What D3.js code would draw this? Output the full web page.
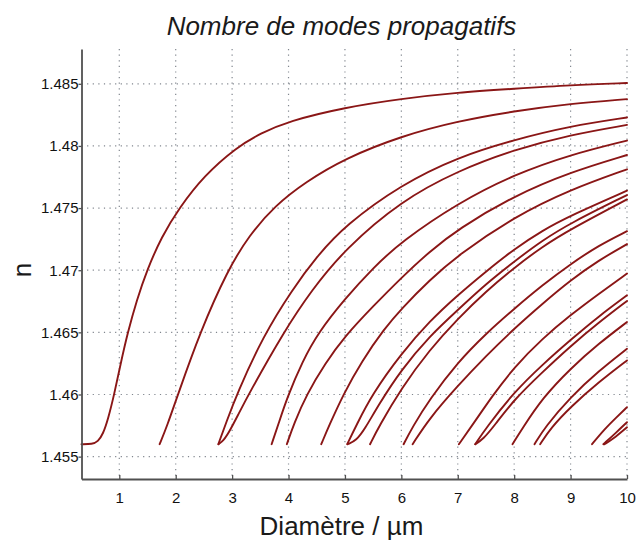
<!DOCTYPE html>
<html>
<head>
<meta charset="utf-8">
<script src="https://cdn.jsdelivr.net/npm/d3@7"></script>
<style>
  body { margin: 0; background: #fff; }
  svg { display: block; }
</style>
</head>
<body>
<svg id="chart" width="638" height="543"></svg>
<script>
// Axis ticks
const xTicks = [1, 2, 3, 4, 5, 6, 7, 8, 9, 10];
const yTicks = [1.455, 1.46, 1.465, 1.47, 1.475, 1.48, 1.485];
const yTickLabels = ["1.455", "1.46", "1.465", "1.47", "1.475", "1.48", "1.485"];

// Guided modes: [core diameter (µm), effective index]
const LP01 = [[0.33,1.456],[0.52,1.456],[0.62,1.4562],[0.71,1.4568],[0.8,1.458],[0.91,1.46],[1.02,1.4624],[1.15,1.465],[1.31,1.4676],[1.49,1.47],[1.75,1.4727],[2.06,1.475],[2.5,1.4776],[3.08,1.4799],[3.5,1.481],[4,1.482],[5,1.4831],[6,1.4838],[7,1.4843],[8,1.4846],[9,1.4849],[10,1.48506]];
const LP11 = [[1.715,1.456],[1.85,1.4575],[2.04,1.46],[2.43,1.465],[2.92,1.47],[3.3,1.4728],[3.76,1.4752],[4.3,1.4771],[5,1.479],[6,1.4808],[7,1.482],[8,1.4828],[9,1.4834],[10,1.48377]];
const LP21 = [[2.755,1.456],[2.9,1.4578],[3.08,1.46],[3.55,1.4647],[4.06,1.4684],[4.5,1.4711],[5,1.4736],[6,1.4769],[7,1.4791],[8,1.4805],[9,1.4816],[10,1.48229]];
const LP02 = [[2.76,1.456],[2.85,1.4563],[2.95,1.457],[3.1,1.4583],[3.29,1.46],[3.91,1.465],[4.41,1.4684],[5,1.4717],[6,1.4756],[7,1.478],[8,1.4797],[9,1.4809],[10,1.48169]];
const LP31 = [[3.7,1.456],[3.82,1.4576],[3.97,1.4597],[4.25,1.4627],[4.53,1.465],[5,1.4677],[5.5,1.4702],[6,1.4723],[7,1.4754],[8,1.4777],[9,1.4793],[10,1.48043]];
const LP12 = [[3.97,1.456],[4.1,1.4577],[4.32,1.46],[4.65,1.4625],[5,1.4647],[5.5,1.4671],[6,1.4694],[6.5,1.4715],[7,1.4733],[8,1.476],[9,1.4779],[10,1.47927]];
const LP41 = [[4.58,1.456],[4.72,1.4575],[4.97,1.46],[5.3,1.4627],[5.7,1.4653],[6,1.4669],[6.5,1.4692],[7,1.4712],[8,1.4743],[9,1.4765],[10,1.47812]];
const LP22 = [[5.04,1.456],[5.2,1.4575],[5.48,1.46],[6,1.4633],[6.5,1.4659],[7,1.468],[7.5,1.4699],[8,1.4717],[8.5,1.4732],[9,1.4744],[10,1.4764]];
const LP03 = [[5.05,1.456],[5.2,1.4563],[5.35,1.4572],[5.6,1.4592],[6,1.462],[6.5,1.4647],[7,1.4668],[7.5,1.4689],[8,1.4707],[8.5,1.4724],[9,1.4738],[10,1.47605]];
const LP51 = [[5.445,1.456],[5.6,1.4574],[6,1.4605],[6.5,1.4636],[7,1.4661],[7.5,1.4683],[8,1.4702],[8.5,1.4719],[9,1.4733],[10,1.4757]];
const LP32 = [[6.04,1.456],[6.2,1.4574],[6.5,1.4596],[7,1.4626],[7.5,1.4649],[8,1.4669],[8.5,1.4688],[9,1.4705],[9.5,1.472],[10,1.47314]];
const LP13 = [[6.2,1.456],[6.5,1.4581],[7,1.4607],[7.5,1.4631],[8,1.4653],[8.5,1.4673],[9,1.4692],[9.5,1.4708],[10,1.4721]];
const LP42 = [[7.02,1.456],[7.3,1.4578],[7.6,1.4598],[8,1.4622],[8.5,1.4645],[9,1.4664],[9.5,1.4681],[10,1.46973]];
const LP23 = [[7.31,1.456],[7.5,1.4573],[8,1.4602],[8.5,1.4624],[9,1.4644],[9.5,1.4663],[10,1.46798]];
const LP04 = [[7.31,1.456],[7.45,1.4564],[7.65,1.4575],[8,1.4596],[8.5,1.4618],[9,1.4639],[9.5,1.4658],[10,1.46753]];
const LP52 = [[7.97,1.456],[8.15,1.4573],[8.5,1.4597],[9,1.4621],[9.5,1.4641],[10,1.46583]];
const LP33 = [[8.36,1.456],[8.55,1.4574],[9,1.4598],[9.5,1.4619],[10,1.46368]];
const LP14 = [[8.46,1.456],[8.65,1.4573],[9,1.459],[9.5,1.461],[10,1.46274]];
const LP43 = [[9.38,1.456],[9.6,1.4572],[9.8,1.4581],[10,1.45898]];
const LP24 = [[9.58,1.456],[9.8,1.4569],[10,1.45777]];
const LP05 = [[9.6,1.456],[9.75,1.4564],[10,1.45736]];

const modes = [LP01, LP11, LP21, LP02, LP31, LP12, LP41, LP22, LP03, LP51,
               LP32, LP13, LP42, LP23, LP04, LP52, LP33, LP14, LP43, LP24, LP05];

const font = "'Liberation Sans', Arial, Helvetica, sans-serif";
const svg = d3.select("#chart");

const x = d3.scaleLinear().domain([0.33, 10]).range([81.5, 627]);
const y = d3.scaleLinear().domain([1.4532, 1.4878]).range([479, 49]);

// dotted grid
const grid = svg.append("g")
  .attr("stroke", "#80868e")
  .attr("stroke-width", 1.2)
  .attr("stroke-dasharray", "1.2,4.4");
grid.selectAll("line.gx").data(xTicks).join("line")
  .attr("class", "gx")
  .attr("x1", d => x(d)).attr("x2", d => x(d))
  .attr("y1", y.range()[1]).attr("y2", y.range()[0]);
grid.selectAll("line.gy").data(yTicks).join("line")
  .attr("class", "gy")
  .attr("x1", x.range()[0]).attr("x2", x.range()[1])
  .attr("y1", d => y(d)).attr("y2", d => y(d));

// mode curves
const line = d3.line()
  .x(d => x(d[0]))
  .y(d => y(d[1]))
  .curve(d3.curveBasis);

svg.append("g")
  .selectAll("path")
  .data(modes)
  .join("path")
  .attr("d", line)
  .attr("fill", "none")
  .attr("stroke", "#8a1616")
  .attr("stroke-width", 1.9)
  .attr("stroke-linejoin", "round")
  .attr("stroke-linecap", "round");

// axes
const xAxis = d3.axisBottom(x)
  .tickValues(xTicks)
  .tickFormat(d3.format("d"))
  .tickSizeInner(-4)
  .tickSizeOuter(0)
  .tickPadding(13);
const yAxis = d3.axisLeft(y)
  .tickValues(yTicks)
  .tickFormat((d, i) => yTickLabels[i])
  .tickSizeInner(3)
  .tickSizeOuter(0)
  .tickPadding(0);

const gx = svg.append("g").attr("transform", `translate(0,${y.range()[0]})`).call(xAxis);
const gy = svg.append("g").attr("transform", `translate(${x.range()[0]},0)`).call(yAxis);

[gx, gy].forEach(g => {
  g.select(".domain").attr("stroke", "#505050").attr("stroke-width", 1.8);
  g.selectAll(".tick line").attr("stroke", "#505050").attr("stroke-width", 1.3);
  g.selectAll(".tick text")
    .attr("fill", "#111")
    .style("font-family", font)
    .style("font-size", "15px");
});

// title and axis labels
svg.append("text")
  .attr("x", 341.5).attr("y", 35)
  .attr("text-anchor", "middle")
  .style("font-family", font)
  .style("font-size", "26px")
  .style("font-style", "italic")
  .attr("fill", "#1a1a1a")
  .text("Nombre de modes propagatifs");

svg.append("text")
  .attr("x", 341.5).attr("y", 535)
  .attr("text-anchor", "middle")
  .style("font-family", font)
  .style("font-size", "26px")
  .attr("fill", "#1a1a1a")
  .text("Diamètre / µm");

svg.append("text")
  .attr("transform", "translate(31,270) rotate(-90)")
  .attr("text-anchor", "middle")
  .style("font-family", font)
  .style("font-size", "26px")
  .attr("fill", "#1a1a1a")
  .text("n");
</script>
</body>
</html>
